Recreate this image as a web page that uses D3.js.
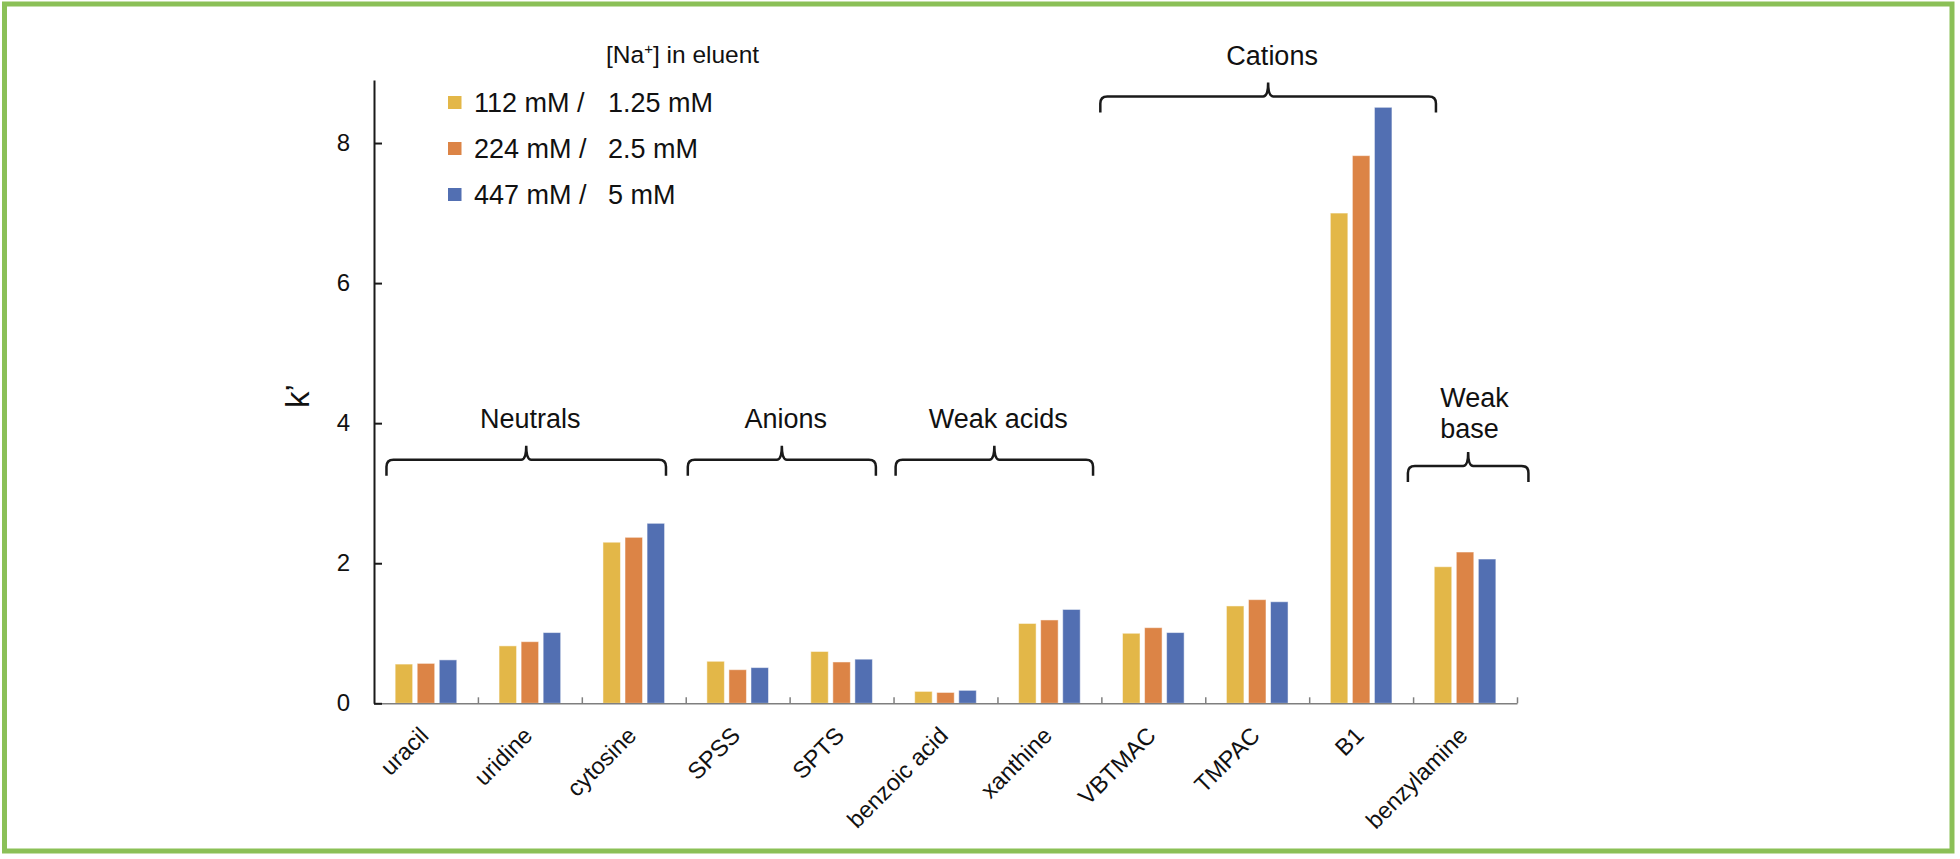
<!DOCTYPE html>
<html><head><meta charset="utf-8">
<script src="https://cdn.jsdelivr.net/npm/d3@7"></script>
<style>
body{margin:0;background:#fff}
text{font-family:"Liberation Sans",Arial,sans-serif;fill:#111}
</style>
</head><body>
<svg id="c" width="1960" height="859"></svg>
<script>
// ---------- data ----------
const categories = ["uracil","uridine","cytosine","SPSS","SPTS","benzoic acid","xanthine","VBTMAC","TMPAC","B1","benzylamine"];
const seriesLabels = ["112 mM /","224 mM /","447 mM /"];
const seriesLabels2 = ["1.25 mM","2.5 mM","5 mM"];
const seriesColors = ["#E3B748","#DC8446","#526FB2"];
const k112 = [0.56, 0.82, 2.30, 0.60, 0.74, 0.17, 1.14, 1.00, 1.39, 7.00, 1.95];
const k224 = [0.57, 0.88, 2.37, 0.48, 0.59, 0.155, 1.19, 1.08, 1.48, 7.82, 2.16];
const k447 = [0.62, 1.01, 2.57, 0.51, 0.63, 0.185, 1.34, 1.01, 1.45, 8.51, 2.06];
const yTicks = [0, 2, 4, 6, 8];
const yMax = 8.9;
const yTitle = "k\u2019";
const legendTitle = ["[Na", "+", "] in eluent"];
// group annotations (positions in category units / k' units)
const groupNames = [["Neutrals"],["Anions"],["Weak acids"],["Cations"],["Weak","base"]];
const groupStart = [0.12, 3.02, 5.02, 6.99, 9.95];
const groupEnd   = [2.81, 4.83, 6.92, 10.22, 11.11];
const groupLevel = [3.476, 3.476, 3.476, 8.666, 3.39];
const groupLabelLevel = [3.93, 3.93, 3.93, 9.12, 4.237];

const series = [k112, k224, k447];

// ---------- layout ----------
const svg = d3.select("#c");
const plotL = 374, plotR = 1517, plotT = 80, plotB = 703.3;

svg.append("rect").attr("width",1960).attr("height",859).attr("fill","#fff");

const x0 = d3.scaleBand().domain(categories).range([plotL, plotR]).paddingInner(0.407).paddingOuter(0.2035);
const x1 = d3.scaleBand().domain(d3.range(series.length)).range([0, x0.bandwidth()]).paddingInner(0.206).paddingOuter(0);
const y = d3.scaleLinear().domain([0, yMax]).range([plotB, plotT]);
const xi = d3.scaleLinear().domain([0, categories.length]).range([plotL, plotR]);

// bars
series.forEach((vals, s) => {
  svg.append("g").selectAll("rect").data(vals).join("rect")
    .attr("x", (d, i) => x0(categories[i]) + x1(s))
    .attr("y", d => y(d))
    .attr("width", x1.bandwidth())
    .attr("height", d => y(0) - y(d))
    .attr("fill", seriesColors[s])
    .attr("stroke", "#ffffff").attr("stroke-opacity", 0.5).attr("stroke-width", 1);
});

// x axis
const xAxis = svg.append("g").attr("transform", `translate(0,${y(0)})`)
  .call(d3.axisBottom(xi).tickValues(d3.range(1, categories.length + 1)).tickSize(-6).tickSizeOuter(0).tickFormat(""));
xAxis.select(".domain").attr("stroke", "#7f7f7f").attr("stroke-width", 1.5);
xAxis.selectAll(".tick line").attr("stroke", "#7f7f7f").attr("stroke-width", 1.5);

// category labels
svg.append("g").selectAll("text").data(categories).join("text")
  .attr("transform", d => `translate(${x0(d) + x0.bandwidth()/2 + 4},737) rotate(-45)`)
  .attr("text-anchor", "end")
  .style("font-size", "23.5px")
  .text(d => d);

// y axis
const yAxis = svg.append("g").attr("transform", `translate(${plotL},0)`)
  .call(d3.axisLeft(y).tickValues(yTicks).tickSize(-8).tickSizeOuter(0).tickPadding(24));
yAxis.select(".domain").attr("stroke", "#1a1a1a").attr("stroke-width", 2);
yAxis.selectAll(".tick line").attr("stroke", "#1a1a1a").attr("stroke-width", 2);
yAxis.selectAll(".tick text").style("font-size", "24px").attr("fill", "#111")
  .style("font-family", "'Liberation Sans',Arial,sans-serif");

// y title
svg.append("text").attr("transform", `translate(309,396) rotate(-90)`)
  .attr("text-anchor", "middle").style("font-size", "33px").text(yTitle);

// braces
function bracePath(xa, xb, yl) {
  const yEnd = yl + 16, yPeak = yl - 14, xm = (xa + xb) / 2, r = 7, rp = 5;
  return `M${xa},${yEnd} L${xa},${yl + r} Q${xa},${yl} ${xa + r},${yl} L${xm - rp},${yl} Q${xm},${yl} ${xm},${yPeak}` +
         ` Q${xm},${yl} ${xm + rp},${yl} L${xb - r},${yl} Q${xb},${yl} ${xb},${yl + r} L${xb},${yEnd}`;
}
groupNames.forEach((lines, g) => {
  const xa = xi(groupStart[g]), xb = xi(groupEnd[g]), yl = y(groupLevel[g]);
  svg.append("path").attr("d", bracePath(xa, xb, yl))
    .attr("fill", "none").attr("stroke", "#1a1a1a").attr("stroke-width", 2.5);
  const xm = (xa + xb) / 2;
  const multi = lines.length > 1;
  const t = svg.append("text")
    .attr("text-anchor", multi ? "start" : "middle")
    .style("font-size", "27px");
  lines.forEach((ln, j) => {
    t.append("tspan").attr("x", multi ? xm - 28 : xm + 4)
      .attr("y", y(groupLabelLevel[g]) + j * 31).text(ln);
  });
});

// legend
const lg = svg.append("g");
const ttl = lg.append("text").attr("x", 606).attr("y", 63).style("font-size", "24.5px");
ttl.append("tspan").text(legendTitle[0]);
ttl.append("tspan").attr("dy", -9).style("font-size", "15px").text(legendTitle[1]);
ttl.append("tspan").attr("dy", 9).text(legendTitle[2]);
seriesLabels.forEach((lab, i) => {
  const by = 112 + i * 46;
  lg.append("rect").attr("x", 448).attr("y", by - 16).attr("width", 13.5).attr("height", 13)
    .attr("fill", seriesColors[i]);
  lg.append("text").attr("x", 474).attr("y", by).style("font-size", "27px").text(lab);
  lg.append("text").attr("x", 608).attr("y", by).style("font-size", "27px").text(seriesLabels2[i]);
});

// outer green frame
svg.append("rect").attr("x", 4.5).attr("y", 4).attr("width", 1947.5).attr("height", 847)
  .attr("fill", "none").attr("stroke", "#8BC057").attr("stroke-width", 5);
</script>
</body></html>
